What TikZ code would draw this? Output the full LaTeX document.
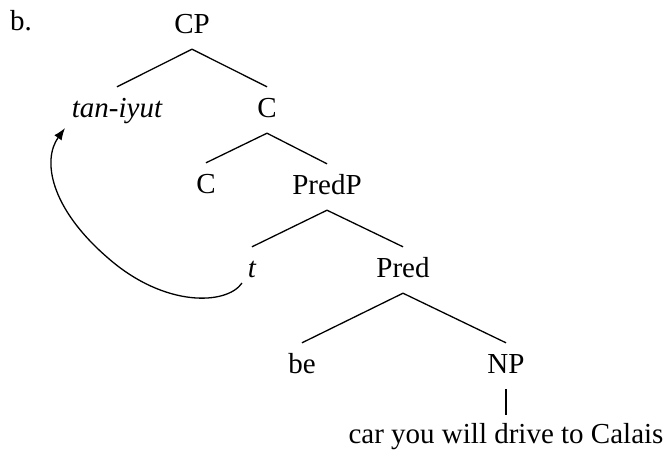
\documentclass[tikz,border=0pt]{standalone}
\usepackage{fontspec}
\setmainfont{Liberation Serif}
\usetikzlibrary{arrows.meta,calc}
\begin{document}
\begin{tikzpicture}[x=1pt,y=-1pt,
  lab/.style={anchor=base,inner xsep=0pt,inner ysep=11pt,text height=19pt,text depth=5pt,font=\fontsize{29}{33}\selectfont},
  br/.style={line width=1.3pt},
  mv/.style={line width=1.3pt,-{Latex[length=12pt,width=9pt]}}]
\useasboundingbox (0,0) rectangle (667,451);
\node[lab,anchor=base west] (b) at (10,30) {b.};
\node[lab] (CP) at (192,33) {CP};
\node[lab] (tan) at (117,117) {\itshape tan-iyut};
\node[lab] (C1) at (267,117) {C};
\node[lab] (C2) at (206,193) {C};
\node[lab] (PredP) at (327,194) {PredP};
\node[lab] (t) at (252,277) {\itshape t};
\node[lab] (Pred) at (403,277) {Pred};
\node[lab] (be) at (302,373) {be};
\node[lab] (NP) at (506,373) {NP};
\node[lab] (car) at (506,443) {car you will drive to Calais};
\draw[br] (CP.south) -- (tan.north);
\draw[br] (CP.south) -- (C1.north);
\draw[br] (C1.south) -- (C2.north);
\draw[br] (C1.south) -- (PredP.north);
\draw[br] (PredP.south) -- (t.north);
\draw[br] (PredP.south) -- (Pred.north);
\draw[br] (Pred.south) -- (be.north);
\draw[br] (Pred.south) -- (NP.north);
\draw[br,shorten >=-2pt] (NP.south) -- (car.north);
\draw[mv] ($(t.base)+(-10,6)$) .. controls (227,305) and (165,308) .. (108,258)
  .. controls (50,208) and (42,160) .. ($(tan.base)+(-52,11)$);
\end{tikzpicture}
\end{document}
